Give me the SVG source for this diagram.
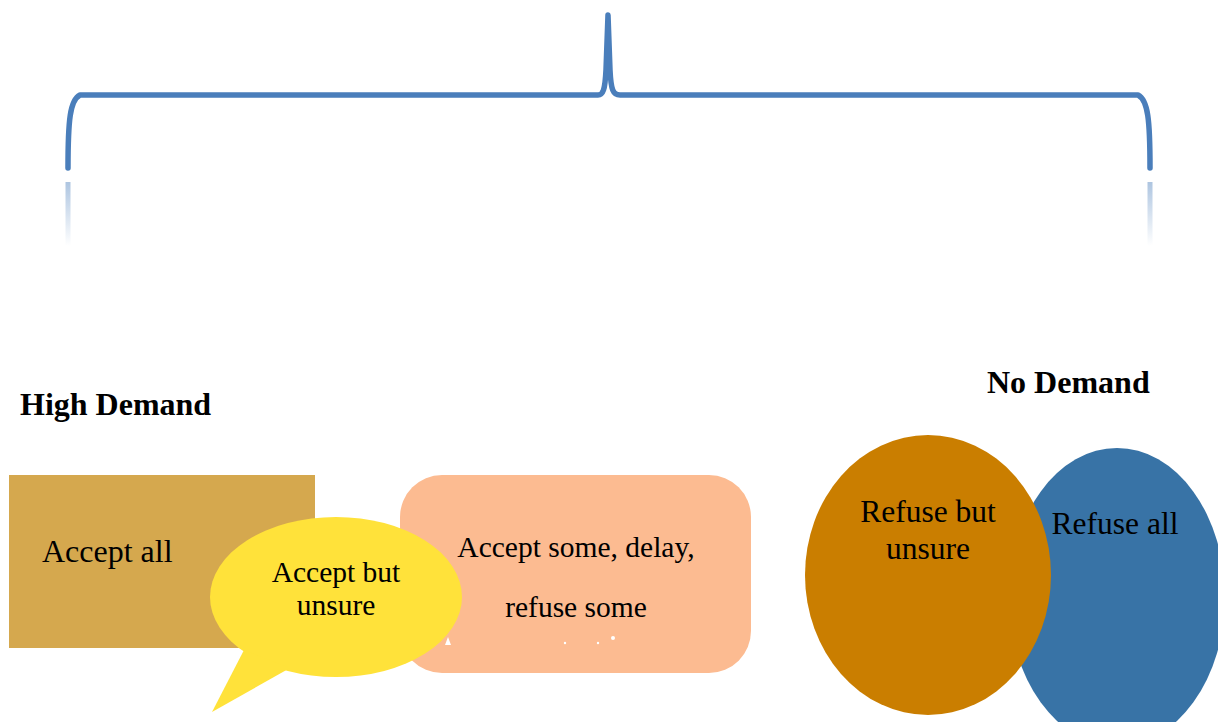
<svg xmlns="http://www.w3.org/2000/svg" width="1218" height="722" viewBox="0 0 1218 722">
<defs>
<style>
.t{font-family:"Liberation Serif","Times New Roman",serif;fill:#000}
.b{font-weight:bold}
.brace{fill:none;stroke:#4A7EBB;stroke-width:5.5;stroke-linecap:round;stroke-linejoin:round}
</style>
<linearGradient id="fade" x1="0" y1="0" x2="0" y2="1">
<stop offset="0" stop-color="#4A7EBB" stop-opacity="0.45"/>
<stop offset="1" stop-color="#4A7EBB" stop-opacity="0"/>
</linearGradient>
</defs>
<rect width="1218" height="722" fill="#fff"/>
<g id="brace">
<path class="brace" d="M 68 168 C 68 120, 70 100, 80 95 L 598 95 C 603 95, 605 90, 606 70 L 608 15 L 610 70 C 611 90, 613 95, 620 95 L 1138 95 C 1148 100, 1150 120, 1150 168"/>
<rect x="65.5" y="182" width="5" height="64" fill="url(#fade)"/>
<rect x="1147.5" y="182" width="5" height="64" fill="url(#fade)"/>
</g>
<g id="labels">
<text class="t b" x="20" y="415" font-size="32">High Demand</text>
<text class="t b" x="987" y="393" font-size="32">No Demand</text>
</g>
<g id="accept-all">
<rect x="9" y="475" width="306" height="173" fill="#D5A84E"/>
<text class="t" x="42" y="562" font-size="32">Accept all</text>
</g>
<g id="accept-some">
<rect x="400" y="475" width="351" height="198" rx="42" fill="#FCBB91"/>
<text class="t" x="576" y="557" font-size="29.5" text-anchor="middle">Accept some, delay,</text>
<text class="t" x="576" y="617" font-size="29.5" text-anchor="middle">refuse some</text>
<path d="M 445 645 L 448 637 L 451 645 Z" fill="#fff"/>
<circle cx="565" cy="643" r="1.2" fill="#fff"/>
<circle cx="598" cy="643" r="1.2" fill="#fff"/>
<circle cx="613" cy="638" r="2" fill="#fff"/>
</g>
<g id="accept-unsure">
<ellipse cx="336" cy="597" rx="126" ry="80" fill="#FFE23A"/>
<path d="M 244 650 L 212 712 L 290 668 Z" fill="#FFE23A"/>
<text class="t" x="336" y="582" font-size="29.5" text-anchor="middle">Accept but</text>
<text class="t" x="336" y="615" font-size="29.5" text-anchor="middle">unsure</text>
</g>
<g id="refuse-all">
<ellipse cx="1117" cy="597" rx="108" ry="149" fill="#3873A6"/>
<text class="t" x="1115" y="534" font-size="31.5" text-anchor="middle">Refuse all</text>
</g>
<g id="refuse-unsure">
<ellipse cx="928" cy="575" rx="123" ry="140" fill="#CA7E00"/>
<text class="t" x="928" y="522" font-size="31.5" text-anchor="middle">Refuse but</text>
<text class="t" x="928" y="559" font-size="31.5" text-anchor="middle">unsure</text>
</g>
<g id="connectors"/>
</svg>
